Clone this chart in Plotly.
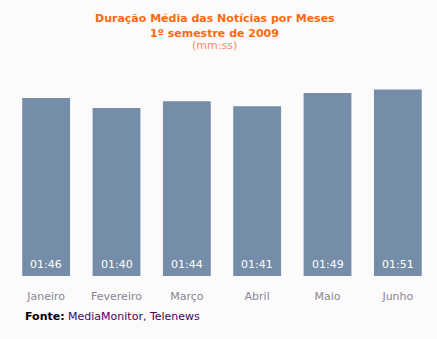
import plotly.graph_objects as go

months = ["Janeiro", "Fevereiro", "Março", "Abril", "Maio", "Junho"]
durations_sec = [106, 100, 104, 101, 109, 111]
duration_labels = ["01:46", "01:40", "01:44", "01:41", "01:49", "01:51"]

title_line1 = "Duração Média das Notícias por Meses"
title_line2 = "1º semestre de 2009"
title_unit = "(mm:ss)"
source_bold = "Fonte:"
source_text = "MediaMonitor, Telenews"

BG = "#FBFBFB"
FONT = "DejaVu Sans, Verdana, sans-serif"

fig = go.Figure(go.Bar(
    x=months,
    y=durations_sec,
    marker=dict(color="#758DA8", line=dict(width=0)),
    hoverinfo="skip",
))

W, H = 437, 339
ml, mr, mt, mb = 11, 4, 60, 63
ph = H - mt - mb

annotations = [
    dict(x=m, y=0, xref="x", yref="y", text=lab, showarrow=False,
         yanchor="middle", yshift=12, font=dict(size=11, color="white", family=FONT))
    for m, lab in zip(months, duration_labels)
]
annotations += [
    dict(text=f"<b>{title_line1}</b>", xref="paper", yref="paper",
         x=0.483, y=1 + (mt - 19) / ph, xanchor="center", yanchor="middle",
         showarrow=False, font=dict(size=11, color="#FF6A10", family=FONT)),
    dict(text=f"<b>{title_line2}</b>", xref="paper", yref="paper",
         x=0.483, y=1 + (mt - 33) / ph, xanchor="center", yanchor="middle",
         showarrow=False, font=dict(size=11, color="#FF6A10", family=FONT)),
    dict(text=title_unit, xref="paper", yref="paper",
         x=0.483, y=1 + (mt - 46) / ph, xanchor="center", yanchor="middle",
         showarrow=False, font=dict(size=11, color="#FF8870", family=FONT)),
    dict(text=f"<b style='color:#000000'>{source_bold}</b> {source_text}",
         xref="paper", yref="paper",
         x=(23 - ml) / (W - ml - mr), y=-(316 - (H - mb)) / ph,
         xanchor="left", yanchor="middle", showarrow=False,
         font=dict(size=11, color="#4A0060", family=FONT)),
]

fig.update_layout(
    width=W, height=H,
    margin=dict(l=ml, r=mr, t=mt, b=mb),
    paper_bgcolor=BG, plot_bgcolor=BG,
    bargap=0.32,
    showlegend=False,
    font=dict(family=FONT),
    xaxis=dict(
        showgrid=False, showline=False, zeroline=False, ticks="",
        tickfont=dict(size=11, color="#8C8494", family=FONT),
        ticklabelstandoff=12,
    ),
    yaxis=dict(
        range=[0, ph / 1.68],
        visible=False, showgrid=False, zeroline=False,
    ),
    annotations=annotations,
)

fig.write_html("out.html")
